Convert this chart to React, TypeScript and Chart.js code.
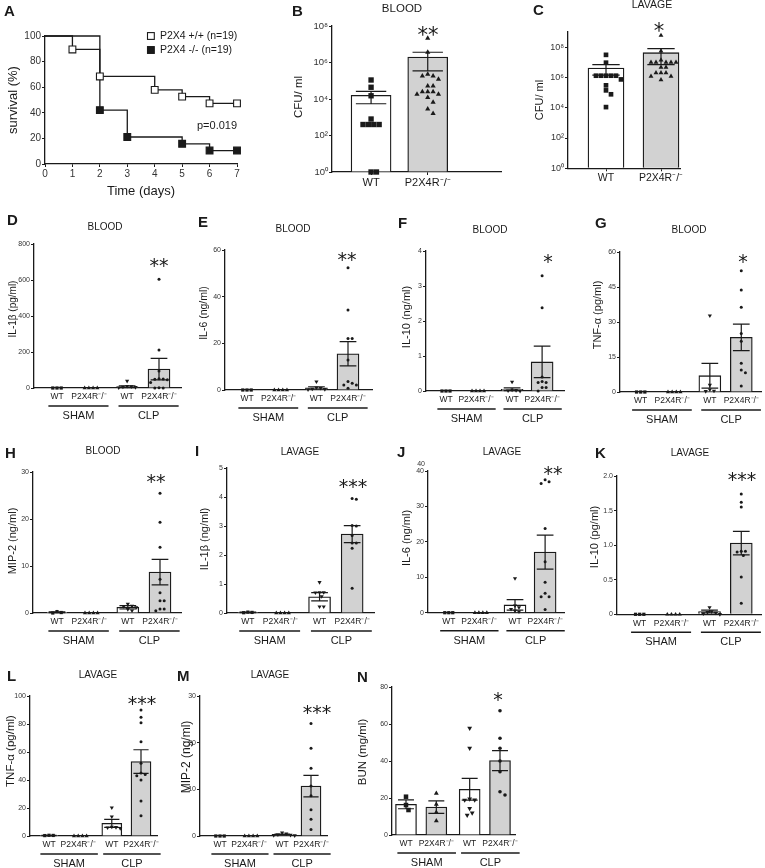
import React, { useEffect, useRef } from 'react';
import { Chart, registerables } from 'chart.js';
Chart.register(...registerables);

const FONT = "'Liberation Sans', Arial, Helvetica, sans-serif";
const STAR_FONT = "'DejaVu Sans', sans-serif";
const INK = '#1a1a1a';
const GRAY = '#d2d2d2';

// ---------------- data ----------------
const KM_DAYS_WT = [0, 1, 2, 4, 5, 6, 7];
const KM_SURV_WT = [100, 89.5, 68.4, 57.9, 52.6, 47.4, 47.4];
const KM_DAYS_KO = [0, 2, 3, 5, 6, 7];
const KM_SURV_KO = [100, 42.1, 21.1, 15.8, 10.5, 10.5];
const KM_LABELS = ['P2X4 +/+ (n=19)', 'P2X4 -/- (n=19)'];
const KM_P = 'p=0.019';

const CATS2 = ['WT', 'P2X4R⁻/⁻'];
const CATS4 = ['WT', 'P2X4R⁻/⁻', 'WT', 'P2X4R⁻/⁻'];
const GROUPS = ['SHAM', 'CLP'];
const LOG_TICKS = [1, 1e2, 1e4, 1e6, 1e8];
const SUP = ['⁰', '¹', '²', '³', '⁴', '⁵', '⁶', '⁷', '⁸', '⁹'];

const B_MEAN = [1.6e4, 2e6];
const B_SEM = [1.05e4, 1.65e6];
const B_WT = [1.1e5, 4.4e4, 1.5e4, 800, 400, 400, 400, 400, 1, 1];
const B_KO = [2.1e7, 3.6e6, 2.3e5, 1.8e5, 1.8e5, 1.2e5, 5.1e4, 5.1e4, 2.5e4, 2.5e4, 2.5e4, 1.8e4, 1.8e4, 1.2e4, 6.6e3, 2.8e3, 1.6e3];

const C_MEAN = [4.2e6, 4.3e7];
const C_SEM = [2.8e6, 3.6e7];
const C_WT = [3.1e7, 9.4e6, 1.3e6, 1.3e6, 1.3e6, 1.3e6, 1.3e6, 7.4e5, 3e5, 1.4e5, 7.7e4, 1.1e4];
const C_KO = [5.9e8, 5.5e7, 1.4e7, 1e7, 1e7, 1e7, 1e7, 1e7, 4.6e6, 4.6e6, 2e6, 2e6, 2e6, 1.2e6, 1.2e6, 7e5];

const D_MEAN = [0, 0, 7, 105];
const D_SEM = [0, 0, 5, 60];
const D_PTS = [[0, 0, 0], [0, 0, 0, 0], [39, 10, 8, 6, 4, 2], [604, 211, 94, 52, 50, 48, 46, 30, 1, 0, 0]];

const E_MEAN = [0, 0, 0.9, 15.5];
const E_SEM = [0, 0, 0.5, 5.2];
const E_PTS = [[0, 0, 0], [0, 0, 0, 0], [3.6, 1.0, 0.8, 0.5, 0.3, 0.2], [52.4, 34.3, 22.1, 22.1, 12.9, 3.6, 2.9, 2.1, 2.1, 0.7]];

const F_MEAN = [0, 0, 0.05, 0.83];
const F_SEM = [0, 0, 0.04, 0.45];
const F_PTS = [[0, 0, 0], [0, 0, 0, 0], [0.26, 0.03, 0.02, 0.01, 0], [3.29, 2.38, 0.4, 0.27, 0.24, 0.24, 0.1, 0.1, 0]];

const G_MEAN = [0, 0, 7.0, 23.4];
const G_SEM = [0, 0, 5.3, 5.7];
const G_PTS = [[0, 0, 0], [0, 0, 0, 0], [32.7, 3.0, 1.0, 0.5, 0.3], [52, 43.7, 36.3, 25.1, 21.8, 12.3, 9.4, 8.3, 2.6]];

const H_MEAN = [0.15, 0, 1.2, 8.7];
const H_SEM = [0.1, 0, 0.35, 2.7];
const H_PTS = [[0.3, 0.1, 0], [0, 0, 0, 0], [1.9, 1.5, 1.4, 1.2, 0.8, 0.5], [25.5, 19.3, 14.0, 7.2, 4.3, 2.6, 2.6, 0.85, 0.85, 0.5]];

const I_MEAN = [0.02, 0, 0.56, 2.72];
const I_SEM = [0.01, 0, 0.14, 0.29];
const I_PTS = [[0.03, 0.02, 0.01], [0, 0, 0, 0], [1.06, 0.71, 0.71, 0.7, 0.57, 0.22, 0.22], [3.95, 3.92, 3.02, 3.0, 2.67, 2.41, 2.41, 2.23, 0.85]];

const J_MEAN = [0, 0, 2.2, 17.1];
const J_SEM = [0, 0, 1.5, 4.8];
const J_PTS = [[0, 0, 0], [0, 0, 0, 0], [9.7, 2.0, 1.5, 1.0, 0.5, 0.3], [37.5, 37.0, 36.5, 23.8, 14.4, 8.6, 5.5, 4.5, 4.5, 0.9]];

const K_MEAN = [0, 0, 0.04, 1.03];
const K_SEM = [0, 0, 0.02, 0.17];
const K_PTS = [[0, 0, 0], [0, 0, 0, 0], [0.1, 0.04, 0.03, 0.02, 0.01, 0], [1.74, 1.62, 1.55, 0.91, 0.91, 0.9, 0.85, 0.54, 0.16]];

const L_MEAN = [0.4, 0, 9.0, 53.2];
const L_SEM = [0.1, 0, 2.9, 8.4];
const L_PTS = [[0.5, 0.4, 0.3], [0, 0, 0, 0], [20.2, 13.8, 6.5, 6.2, 6.0, 5.5], [90, 84.8, 80.9, 67.4, 51.9, 45, 44, 43, 40, 25, 14.5]];

const M_MEAN = [0, 0, 0.3, 10.7];
const M_SEM = [0, 0, 0.1, 2.3];
const M_PTS = [[0, 0, 0], [0, 0, 0, 0], [0.7, 0.5, 0.3, 0.2, 0.15, 0.1], [24.1, 18.8, 14.5, 10.7, 8.6, 5.6, 3.6, 1.4]];

const N_MEAN = [16.6, 15.1, 24.7, 40.2];
const N_SEM = [2.4, 3.4, 5.9, 5.4];
const N_PTS = [[20.7, 16.2, 13.5], [22.5, 16.6, 12.3, 7.7], [57.7, 46.9, 19.5, 19, 18.9, 14.4, 11.9, 10.7], [67.2, 52.3, 46.9, 40, 34.2, 23.4, 21.6]];

// ---------------- helpers ----------------
function swarm(vals: number[], toPx: (v: number) => number, d: number) {
  const items = vals.map((v) => ({ v, y: toPx(v) })).sort((a, b) => b.y - a.y);
  const placed: { x: number; y: number }[] = [];
  const out: { v: number; dx: number }[] = [];
  for (const it of items) {
    let dx = 0;
    for (let k = 0; k < 80; k++) {
      const c = k === 0 ? 0 : (k % 2 ? 1 : -1) * Math.ceil(k / 2) * d * 0.5;
      if (placed.every((p) => Math.hypot(p.x - c, p.y - it.y) >= d)) { dx = c; break; }
    }
    placed.push({ x: dx, y: it.y });
    out.push({ v: it.v, dx });
  }
  return out;
}

type Geo = {
  cell: number[]; ax: number; ar: number; at: number; ab: number;
  c0: number; cN: number; gap: number; bw: number;
  yTitle: number[]; letter: number[]; title?: number[]; star: number[];
  yTitleSize: number; tickSize: number; catSize: number; titleSize: number; groupSize: number;
  radii: number[]; dot: number; starSize: number; letterSize: number; xTick: number;
};

type BarPanel = {
  letter: string; title?: string; yLabel: string; log?: boolean;
  yMin: number; yMax: number; yStep?: number; yDec?: number;
  cats: string[]; means: number[]; sems: number[]; pts: number[][]; stars: string;
  geo: Geo; extra?: { text: string; x: number; y: number }[];
};

const small = (o: any): Geo => ({
  gap: 0.2, bw: 22, yTitleSize: 11, tickSize: 7, catSize: 8.5, titleSize: 10, groupSize: 11,
  radii: [2.3, 2.4, 2.4, 1.5], dot: 4.2, starSize: 19, letterSize: 15, xTick: 0, ...o,
});

const PANELS: BarPanel[] = [
  {
    letter: 'B', title: 'BLOOD', yLabel: 'CFU/ ml', log: true, yMin: 1, yMax: 1e8,
    cats: CATS2, means: B_MEAN, sems: B_SEM, pts: [B_WT, B_KO], stars: '**',
    geo: { cell: [255, 0, 250, 200], ax: 332, ar: 505, at: 26, ab: 172, c0: 372, cN: 430, gap: 0, bw: 40,
      yTitle: [299, 97], letter: [292, 12], title: [402, 9], star: [428, 29], yTitleSize: 11.5, tickSize: 9.5,
      catSize: 11, titleSize: 11.5, groupSize: 11, radii: [3.8, 3.0], dot: 5.5, starSize: 21, letterSize: 15, xTick: 3 },
  },
  {
    letter: 'C', title: 'LAVAGE', yLabel: 'CFU/ ml', log: true, yMin: 1, yMax: 1e9,
    cats: CATS2, means: C_MEAN, sems: C_SEM, pts: [C_WT, C_KO], stars: '*',
    geo: { cell: [505, 0, 260, 200], ax: 568, ar: 680, at: 32, ab: 168.3, c0: 606, cN: 661, gap: 0, bw: 36,
      yTitle: [540, 100], letter: [533, 11], title: [652, 5], star: [659, 25], yTitleSize: 11, tickSize: 9,
      catSize: 10.5, titleSize: 10.5, groupSize: 11, radii: [3.3, 2.8], dot: 5, starSize: 21, letterSize: 15, xTick: 3 },
  },
  {
    letter: 'D', title: 'BLOOD', yLabel: 'IL-1β (pg/ml)', yMin: 0, yMax: 800, yStep: 200,
    cats: CATS4, means: D_MEAN, sems: D_SEM, pts: D_PTS, stars: '**',
    geo: small({ cell: [0, 200, 188, 230], ax: 34, ar: 181, at: 244, ab: 388, c0: 57, cN: 159,
      yTitle: [13, 309], yTitleSize: 10, letter: [7, 221], title: [105, 227], star: [159, 261] }),
  },
  {
    letter: 'E', title: 'BLOOD', yLabel: 'IL-6 (ng/ml)', yMin: 0, yMax: 60, yStep: 20,
    cats: CATS4, means: E_MEAN, sems: E_SEM, pts: E_PTS, stars: '**',
    geo: small({ cell: [188, 200, 190, 230], ax: 225, ar: 372, at: 250, ab: 390, c0: 247, cN: 348,
      yTitle: [204, 313], yTitleSize: 10.5, letter: [198, 223], title: [293, 229], star: [347, 255] }),
  },
  {
    letter: 'F', title: 'BLOOD', yLabel: 'IL-10 (ng/ml)', yMin: 0, yMax: 4, yStep: 1,
    cats: CATS4, means: F_MEAN, sems: F_SEM, pts: F_PTS, stars: '*',
    geo: small({ cell: [378, 200, 190, 230], ax: 426, ar: 571, at: 251, ab: 391, c0: 447, cN: 548,
      yTitle: [407, 317], letter: [398, 224], title: [490, 230], star: [548, 257] }),
  },
  {
    letter: 'G', title: 'BLOOD', yLabel: 'TNF-α (pg/ml)', yMin: 0, yMax: 60, yStep: 15,
    cats: CATS4, means: G_MEAN, sems: G_SEM, pts: G_PTS, stars: '*',
    geo: small({ cell: [568, 200, 197, 230], ax: 620, ar: 763, at: 252, ab: 392, c0: 641, cN: 743,
      yTitle: [598, 315], letter: [595, 224], title: [689, 230], star: [743, 257] }),
  },
  {
    letter: 'H', title: 'BLOOD', yLabel: 'MIP-2 (ng/ml)', yMin: 0, yMax: 30, yStep: 10,
    cats: CATS4, means: H_MEAN, sems: H_SEM, pts: H_PTS, stars: '**',
    geo: small({ cell: [0, 430, 188, 225], ax: 33, ar: 181, at: 472, ab: 613, c0: 57, cN: 160,
      yTitle: [13, 541], letter: [5, 454], title: [103, 451], star: [156, 477] }),
  },
  {
    letter: 'I', title: 'LAVAGE', yLabel: 'IL-1β (ng/ml)', yMin: 0, yMax: 5, yStep: 1,
    cats: CATS4, means: I_MEAN, sems: I_SEM, pts: I_PTS, stars: '***',
    geo: small({ cell: [188, 430, 190, 225], ax: 227, ar: 375, at: 468, ab: 613, c0: 248, cN: 353,
      yTitle: [205, 539], letter: [195, 452], title: [300, 452], star: [353, 482] }),
  },
  {
    letter: 'J', title: 'LAVAGE', yLabel: 'IL-6 (ng/ml)', yMin: 0, yMax: 40, yStep: 10,
    cats: CATS4, means: J_MEAN, sems: J_SEM, pts: J_PTS, stars: '**',
    geo: small({ cell: [378, 430, 190, 225], ax: 428, ar: 572, at: 471, ab: 612.7, c0: 450, cN: 552,
      yTitle: [407, 538], letter: [397, 453], title: [502, 452], star: [553, 469] }),
    extra: [{ text: '40', x: 425, y: 464 }],
  },
  {
    letter: 'K', title: 'LAVAGE', yLabel: 'IL-10 (pg/ml)', yMin: 0, yMax: 2, yStep: 0.5, yDec: 1,
    cats: CATS4, means: K_MEAN, sems: K_SEM, pts: K_PTS, stars: '***',
    geo: small({ cell: [568, 430, 197, 225], ax: 617, ar: 763, at: 476, ab: 614.3, c0: 640, cN: 743,
      yTitle: [595, 537], letter: [595, 454], title: [690, 453], star: [742, 475] }),
  },
  {
    letter: 'L', title: 'LAVAGE', yLabel: 'TNF-α (pg/ml)', yMin: 0, yMax: 100, yStep: 20,
    cats: CATS4, means: L_MEAN, sems: L_SEM, pts: L_PTS, stars: '***',
    geo: small({ cell: [0, 655, 172, 213], ax: 30, ar: 157, at: 696, ab: 836, c0: 49, cN: 141, bw: 20, gap: 0.15,
      yTitle: [11, 751], letter: [7, 677], title: [98, 675], star: [142, 699], yTitleSize: 11.5 }),
  },
  {
    letter: 'M', title: 'LAVAGE', yLabel: 'MIP-2 (ng/ml)', yMin: 0, yMax: 30, yStep: 10,
    cats: CATS4, means: M_MEAN, sems: M_SEM, pts: M_PTS, stars: '***',
    geo: small({ cell: [172, 655, 178, 213], ax: 200, ar: 327, at: 696, ab: 836, c0: 220, cN: 311, bw: 20, gap: 0.15,
      yTitle: [187, 757], letter: [177, 677], title: [270, 675], star: [317, 708], yTitleSize: 12 }),
  },
  {
    letter: 'N', yLabel: 'BUN (mg/ml)', yMin: 0, yMax: 80, yStep: 20,
    cats: CATS4, means: N_MEAN, sems: N_SEM, pts: N_PTS, stars: '*',
    geo: small({ cell: [350, 655, 250, 213], ax: 392, ar: 515, at: 687, ab: 835, c0: 406, cN: 500, bw: 21, gap: 0.1,
      yTitle: [363, 752], letter: [357, 678], star: [498, 695], radii: [3.2, 2.8, 2.8, 1.8], dot: 5, yTitleSize: 11.5 }),
  },
];

function buildBar(canvas: HTMLCanvasElement, p: BarPanel) {
  const g = p.geo;
  const [cl, ct, cw, ch] = g.cell;
  const n = p.cats.length;
  const pos = p.cats.map((_, i) => i + (n === 4 && i >= 2 ? g.gap : 0));
  const unit = (g.cN - g.c0) / pos[n - 1];
  const xMin = -(g.c0 - g.ax) / unit;
  const xMax = xMin + (g.ar - g.ax) / unit;
  const plotH = g.ab - g.at;
  const toPx = p.log
    ? (v: number) => (Math.log10(Math.max(v, p.yMin)) / Math.log10(p.yMax)) * plotH
    : (v: number) => (v / p.yMax) * plotH;
  const styles = n === 4 ? ['rect', 'triangle', 'triangle', 'circle'] : ['rect', 'triangle'];
  const rots = n === 4 ? [0, 0, 180, 0] : [0, 0];
  const fills = n === 4 ? ['#ffffff', GRAY, '#ffffff', GRAY] : ['#ffffff', GRAY];

  const datasets: any[] = [
    {
      type: 'bar', data: pos.map((x, i) => ({ x, y: p.means[i] })),
      backgroundColor: fills, borderColor: INK, borderWidth: 1.3, barThickness: g.bw,
      borderSkipped: 'start', order: 10, base: p.log ? p.yMin : 0,
    },
  ];
  p.pts.forEach((vals, i) => {
    const sw = swarm(vals, toPx, g.dot);
    datasets.push({
      type: 'scatter', data: sw.map((s) => ({ x: pos[i] + s.dx / unit, y: s.v })),
      pointStyle: styles[i], pointRotation: rots[i], pointRadius: g.radii[i],
      pointBackgroundColor: INK, pointBorderColor: INK, pointBorderWidth: 0, order: 1, clip: false,
    });
  });

  const deco = {
    id: 'deco',
    afterDatasetDraw(chart: any, args: any) {
      if (args.index !== 0) return;
      const ctx = chart.ctx;
      const ys = chart.scales.y;
      ctx.save();
      ctx.strokeStyle = INK;
      ctx.lineWidth = 1.2;
      args.meta.data.forEach((el: any, i: number) => {
        const m = p.means[i], s = p.sems[i];
        if (!s) return;
        const yt = ys.getPixelForValue(m + s);
        const yb = ys.getPixelForValue(Math.max(m - s, p.log ? p.yMin : 0));
        const hw = g.bw * 0.38;
        ctx.beginPath();
        ctx.moveTo(el.x, yt); ctx.lineTo(el.x, yb);
        ctx.moveTo(el.x - hw, yt); ctx.lineTo(el.x + hw, yt);
        ctx.moveTo(el.x - hw, yb); ctx.lineTo(el.x + hw, yb);
        ctx.stroke();
      });
      ctx.restore();
    },
    afterDraw(chart: any) {
      const ctx = chart.ctx;
      const xs = chart.scales.x;
      ctx.save();
      ctx.fillStyle = INK;
      ctx.strokeStyle = INK;
      ctx.textBaseline = 'middle';
      ctx.textAlign = 'left';
      ctx.font = `bold ${g.letterSize}px ${FONT}`;
      ctx.fillText(p.letter, g.letter[0] - cl, g.letter[1] - ct);
      ctx.textAlign = 'center';
      if (p.title && g.title) {
        ctx.font = `${g.titleSize}px ${FONT}`;
        ctx.fillText(p.title, g.title[0] - cl, g.title[1] - ct);
      }
      // y-axis title
      ctx.save();
      ctx.translate(g.yTitle[0] - cl, g.yTitle[1] - ct);
      ctx.rotate(-Math.PI / 2);
      ctx.font = `${g.yTitleSize}px ${FONT}`;
      ctx.fillText(p.yLabel, 0, 0);
      ctx.restore();
      ctx.font = `${g.starSize}px ${STAR_FONT}`;
      ctx.textBaseline = 'alphabetic';
      ctx.fillText(p.stars, g.star[0] - cl, g.star[1] - ct + g.starSize * 0.6);
      ctx.textBaseline = 'middle';
      if (p.extra) {
        ctx.font = `${g.tickSize}px ${FONT}`;
        ctx.fillStyle = '#333';
        ctx.textAlign = 'right';
        p.extra.forEach((e) => ctx.fillText(e.text, e.x - cl, e.y - ct));
        ctx.fillStyle = INK;
        ctx.textAlign = 'center';
      }
      if (n === 4) {
        GROUPS.forEach((name, gi) => {
          const i0 = gi * 2, i1 = gi * 2 + 1;
          ctx.font = `${g.catSize}px ${FONT}`;
          const x0 = xs.getPixelForValue(pos[i0]) - ctx.measureText(p.cats[i0]).width / 2 - 2;
          const x1 = xs.getPixelForValue(pos[i1]) + ctx.measureText(p.cats[i1]).width / 2 + 2;
          const yl = g.ab - ct + 18;
          ctx.lineWidth = 1.4;
          ctx.beginPath(); ctx.moveTo(x0, yl); ctx.lineTo(x1, yl); ctx.stroke();
          ctx.font = `${g.groupSize}px ${FONT}`;
          ctx.fillText(name, (x0 + x1) / 2, g.ab - ct + 28);
        });
      }
      ctx.restore();
    },
  };

  const yScale: any = {
    type: p.log ? 'logarithmic' : 'linear',
    min: p.yMin, max: p.yMax,
    grid: { display: true, drawOnChartArea: false, color: INK, tickLength: 3, tickWidth: 1 },
    border: { display: true, color: INK, width: 1.3 },
    ticks: {
      color: '#333', padding: 1, font: { family: FONT, size: g.tickSize },
      ...(p.log ? {} : { stepSize: p.yStep }),
      callback: (v: number) => p.log ? '10' + SUP[Math.round(Math.log10(v))] : (p.yDec && v !== 0 ? v.toFixed(p.yDec) : String(v)),
    },
    title: { display: false, text: p.yLabel },
    afterFit: (s: any) => { s.width = g.ax - cl; },
  };
  if (p.log) yScale.afterBuildTicks = (s: any) => { s.ticks = LOG_TICKS.map((v) => ({ value: v })); };

  return new Chart(canvas, {
    type: 'bar',
    data: { datasets },
    options: {
      responsive: false, animation: false, devicePixelRatio: 1, events: [],
      layout: { padding: { left: 0, top: g.at - ct, right: cl + cw - g.ar, bottom: 0 } },
      plugins: { legend: { display: false }, title: { display: false }, tooltip: { enabled: false } },
      scales: {
        x: {
          type: 'linear', min: xMin, max: xMax, offset: false,
          grid: { display: true, drawOnChartArea: false, drawTicks: g.xTick > 0, color: INK, tickLength: g.xTick || 3, offset: false },
          border: { display: true, color: INK, width: 1.3 },
          afterBuildTicks: (s: any) => { s.ticks = pos.map((v) => ({ value: v })); },
          ticks: {
            autoSkip: false, maxRotation: 0, minRotation: 0, padding: g.xTick > 0 ? 1 : 4, color: INK,
            font: { family: FONT, size: g.catSize },
            callback: (_v: number, i: number) => p.cats[i],
          },
          afterFit: (s: any) => { s.height = ct + ch - g.ab; },
        },
        y: yScale,
      },
    } as any,
    plugins: [deco],
  } as any);
}

function buildKM(canvas: HTMLCanvasElement) {
  const cell = [0, 0, 255, 200];
  const ax = 45, ar = 237, at = 36, ab = 164;
  const mk = (days: number[], surv: number[], label: string, fill: string) => ({
    label, data: days.map((x, i) => ({ x, y: surv[i] })), stepped: 'before',
    borderColor: INK, borderWidth: 1.3, fill: false, clip: false,
    pointStyle: 'rect', pointRadius: days.map((_, i) => (i ? 4.8 : 0)),
    pointBackgroundColor: fill, pointBorderColor: INK, pointBorderWidth: 1.1,
  });
  const deco = {
    id: 'kmdeco',
    afterDraw(chart: any) {
      const ctx = chart.ctx;
      ctx.save();
      ctx.fillStyle = INK; ctx.strokeStyle = INK;
      ctx.textBaseline = 'middle'; ctx.textAlign = 'left';
      ctx.font = `bold 15px ${FONT}`;
      ctx.fillText('A', 4, 12);
      ctx.font = `10.5px ${FONT}`;
      const fills = ['#ffffff', INK];
      KM_LABELS.forEach((lab, i) => {
        const y = 36 + i * 14;
        ctx.fillStyle = fills[i];
        ctx.lineWidth = 1.1;
        ctx.fillRect(147.5, y - 3.4, 6.8, 6.8);
        ctx.strokeRect(147.5, y - 3.4, 6.8, 6.8);
        ctx.fillStyle = INK;
        ctx.fillText(lab, 160, y);
      });
      ctx.font = `11px ${FONT}`;
      ctx.fillText(KM_P, 197, 126);
      ctx.restore();
    },
  };
  return new Chart(canvas, {
    type: 'line',
    data: { datasets: [mk(KM_DAYS_WT, KM_SURV_WT, KM_LABELS[0], '#ffffff'), mk(KM_DAYS_KO, KM_SURV_KO, KM_LABELS[1], INK)] },
    options: {
      responsive: false, animation: false, devicePixelRatio: 1, events: [],
      layout: { padding: { left: 0, top: at, right: cell[2] - ar, bottom: 0 } },
      plugins: { legend: { display: false }, title: { display: false }, tooltip: { enabled: false } },
      scales: {
        x: {
          type: 'linear', min: 0, max: 7,
          grid: { display: true, drawOnChartArea: false, color: INK, tickLength: 3 },
          border: { display: true, color: INK, width: 1.3 },
          ticks: { stepSize: 1, color: '#333', padding: 1, font: { family: FONT, size: 10 }, maxRotation: 0 },
          title: { display: true, text: 'Time (days)', color: INK, font: { family: FONT, size: 13 }, padding: { top: 0, bottom: 1 } },
          afterFit: (s: any) => { s.height = cell[3] - ab; },
        },
        y: {
          type: 'linear', min: 0, max: 100,
          grid: { display: true, drawOnChartArea: false, color: INK, tickLength: 3 },
          border: { display: true, color: INK, width: 1.3 },
          ticks: { stepSize: 20, color: '#333', padding: 1, font: { family: FONT, size: 10 } },
          title: { display: true, text: 'survival (%)', color: INK, font: { family: FONT, size: 13 }, padding: { top: 13 - 7.8, bottom: 0 } },
          afterFit: (s: any) => { s.width = ax; },
        },
      },
    } as any,
    plugins: [deco],
  } as any);
}

function ChartBox({ cell, build }: { cell: number[]; build: (c: HTMLCanvasElement) => Chart }) {
  const ref = useRef<HTMLCanvasElement>(null);
  useEffect(() => {
    const chart = build(ref.current as HTMLCanvasElement);
    return () => chart.destroy();
  }, []);
  return (
    <canvas ref={ref} width={cell[2]} height={cell[3]}
      style={{ position: 'absolute', left: cell[0], top: cell[1], width: cell[2], height: cell[3] }} />
  );
}

export default function App() {
  return (
    <div style={{ position: 'absolute', left: 0, top: 0, width: 765, height: 868, background: '#fff', overflow: 'hidden' }}>
      <ChartBox cell={[0, 0, 255, 200]} build={buildKM} />
      {PANELS.map((p) => (
        <ChartBox key={p.letter} cell={p.geo.cell} build={(c) => buildBar(c, p)} />
      ))}
    </div>
  );
}
